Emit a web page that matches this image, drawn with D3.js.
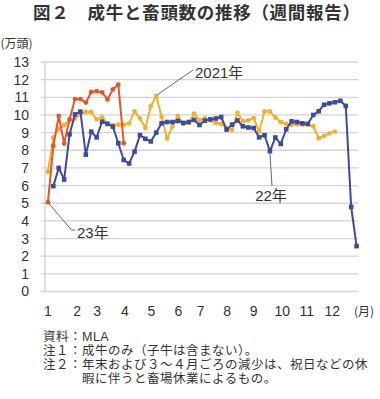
<!DOCTYPE html>
<html><head><meta charset="utf-8">
<script src="https://cdn.jsdelivr.net/npm/d3@7"></script>
<style>body{margin:0;background:#fff;} svg{display:block;}</style>
</head><body><svg id="c" width="380" height="399"></svg>
<script>
// ---- data ----
const yTicks = [0,1,2,3,4,5,6,7,8,9,10,11,12,13];
const monthLabels = ["1","2","3","4","5","6","7","8","9","10","11","12"];
const monthTickWeek = [-0.1, 5.3, 9.0, 14.1, 19.0, 24.0, 28.1, 33.0, 37.9, 43.2, 47.7, 52.4];

const y2021Start = 0;
const y2021 = [6.78, 8.71, 9.22, 9.43, 9.68, 9.8, 10.05, 10.17, 10.17, 9.75,
  9.86, 9.48, 9.42, 9.45, 9.45, 9.52, 10.2, 9.8, 9.26, 10.5,
  11.08, 9.9, 8.66, 9.34, 9.94, 9.5, 9.55, 10.08, 9.7, 9.8,
  9.7, 9.55, 9.5, 9.25, 9.15, 10.12, 9.65, 9.7, 9.82, 9.05,
  10.2, 10.2, 9.85, 9.6, 9.5, 9.45, 9.47, 9.45, 9.45, 9.36,
  8.68, 8.82, 8.96, 9.06];

const y2022Start = 1;
const y2022 = [5.97, 7.0, 6.34, 8.9, 10.03, 10.19, 7.75, 9.05, 8.73, 9.62,
  9.5, 9.34, 8.4, 7.45, 7.25, 7.92, 8.86, 8.65, 8.5, 9.0,
  9.53, 9.6, 9.6, 9.66, 9.55, 9.6, 9.72, 9.43, 9.68, 9.75,
  9.8, 9.88, 9.17, 9.45, 9.69, 9.36, 9.29, 9.26, 8.73, 8.85,
  7.95, 8.72, 8.36, 9.19, 9.64, 9.6, 9.53, 9.5, 10.0, 10.21,
  10.58, 10.66, 10.72, 10.8, 10.51, 4.79, 2.57];

const y2023Start = 0;
const y2023 = [5.05, 8.25, 9.95, 8.38, 9.75, 10.9, 10.9, 10.7, 11.3, 11.35,
  11.28, 10.88, 11.45, 11.72, 8.4];

const title = "図２　成牛と畜頭数の推移（週間報告）";
const unitLabel = "(万頭)";
const monthUnit = "(月)";
const notes = ["資料：MLA", "注１：成牛のみ（子牛は含まない）。",
  "注２：年末および３～４月ごろの減少は、祝日などの休", "暇に伴うと畜場休業によるもの。"];

// ---- chart ----
const svg = d3.select("#c");
const jp = "'Noto Sans CJK JP', sans-serif";
const num = "'Liberation Sans', 'Noto Sans CJK JP', sans-serif";
const x = d3.scaleLinear().domain([-1.46, 57.26]).range([40, 358]);
const y = d3.scaleLinear().domain([0, 13]).range([291.5, 62]);

svg.append("text").attr("x", 33).attr("y", 19).text(title)
  .attr("font-family", jp).attr("font-weight", 700).attr("font-size", 17.5)
  .attr("letter-spacing", 0.7).attr("fill", "#333");
svg.append("text").attr("x", 0.5).attr("y", 48).text(unitLabel)
  .attr("font-family", jp).attr("font-size", 12).attr("fill", "#333");

// gridlines
svg.append("g").selectAll("line").data(yTicks).join("line")
  .attr("x1", 41).attr("x2", 358)
  .attr("y1", d => y(d)).attr("y2", d => y(d))
  .attr("stroke", "#d4d4d4").attr("stroke-width", 1.3);
svg.append("line").attr("x1", 45).attr("x2", 45).attr("y1", y(13)).attr("y2", y(0))
  .attr("stroke", "#cfcfcf").attr("stroke-width", 1.3);

// y axis labels
const ya = svg.append("g").attr("transform", "translate(29,0)")
  .call(d3.axisLeft(y).tickValues(yTicks).tickSize(0).tickPadding(0));
ya.select(".domain").remove();
ya.selectAll("text").attr("font-size", 14).attr("font-family", num).attr("fill", "#333");

// x axis labels
const xa = svg.append("g").attr("transform", "translate(0,306.5)")
  .call(d3.axisBottom(x).tickValues(monthTickWeek).tickFormat((d, i) => monthLabels[i]).tickSize(0).tickPadding(0));
xa.select(".domain").remove();
xa.selectAll("text").attr("font-size", 14).attr("font-family", num).attr("fill", "#333");
svg.append("text").attr("x", 354).attr("y", 316).text(monthUnit)
  .attr("font-family", jp).attr("font-size", 12).attr("fill", "#333");

function drawSeries(vals, start, color, shape) {
  const pts = vals.map((v, i) => ({w: start + i, v}));
  const line = d3.line().x(d => x(d.w)).y(d => y(d.v));
  const g = svg.append("g");
  g.append("path").datum(pts).attr("d", line).attr("fill", "none")
    .attr("stroke", color).attr("stroke-width", 2).attr("stroke-linejoin", "round");
  if (shape === "circle") {
    g.selectAll("circle").data(pts).join("circle")
      .attr("cx", d => x(d.w)).attr("cy", d => y(d.v)).attr("r", 2.4).attr("fill", color);
  } else {
    g.selectAll("rect").data(pts).join("rect")
      .attr("x", d => x(d.w) - 2.3).attr("y", d => y(d.v) - 2.3)
      .attr("width", 4.6).attr("height", 4.6).attr("fill", color);
  }
}
drawSeries(y2021, y2021Start, "#F0B033", "circle");
drawSeries(y2022, y2022Start, "#3E4A9C", "square");
drawSeries(y2023, y2023Start, "#E2562F", "circle");

// annotations
const lead = "#666";
const px21 = x(y2021Start + 20), py21 = y(y2021[20]);
svg.append("line").attr("x1", px21 + 1).attr("y1", py21 - 1).attr("x2", 193).attr("y2", 70)
  .attr("stroke", lead).attr("stroke-width", 1);
svg.append("text").attr("x", 195).attr("y", 78).text("2021年")
  .attr("font-family", num).attr("font-size", 15).attr("fill", "#333");

const px22 = x(y2022Start + 40), py22 = y(y2022[40]);
svg.append("line").attr("x1", px22).attr("y1", py22 + 2).attr("x2", 272).attr("y2", 186)
  .attr("stroke", lead).attr("stroke-width", 1);
svg.append("text").attr("x", 271).attr("y", 201).attr("text-anchor", "middle").text("22年")
  .attr("font-family", num).attr("font-size", 15).attr("fill", "#333");

const px23 = x(y2023Start), py23 = y(y2023[0]);
svg.append("polyline").attr("points", `${px23},${py23} 71.5,230 75,230`)
  .attr("fill", "none").attr("stroke", lead).attr("stroke-width", 1);
svg.append("text").attr("x", 77).attr("y", 238).text("23年")
  .attr("font-family", num).attr("font-size", 15).attr("fill", "#333");

// notes
const noteX = [43, 43, 43, 82];
const noteY = [340.5, 354.5, 368.5, 382.5];
svg.append("g").selectAll("text").data(notes).join("text")
  .attr("x", (d, i) => noteX[i]).attr("y", (d, i) => noteY[i]).text(d => d)
  .attr("font-family", "'Liberation Sans', 'Noto Sans CJK JP', sans-serif")
  .attr("font-size", 12.5).attr("letter-spacing", 0.5).attr("fill", "#333");
</script></body></html>
